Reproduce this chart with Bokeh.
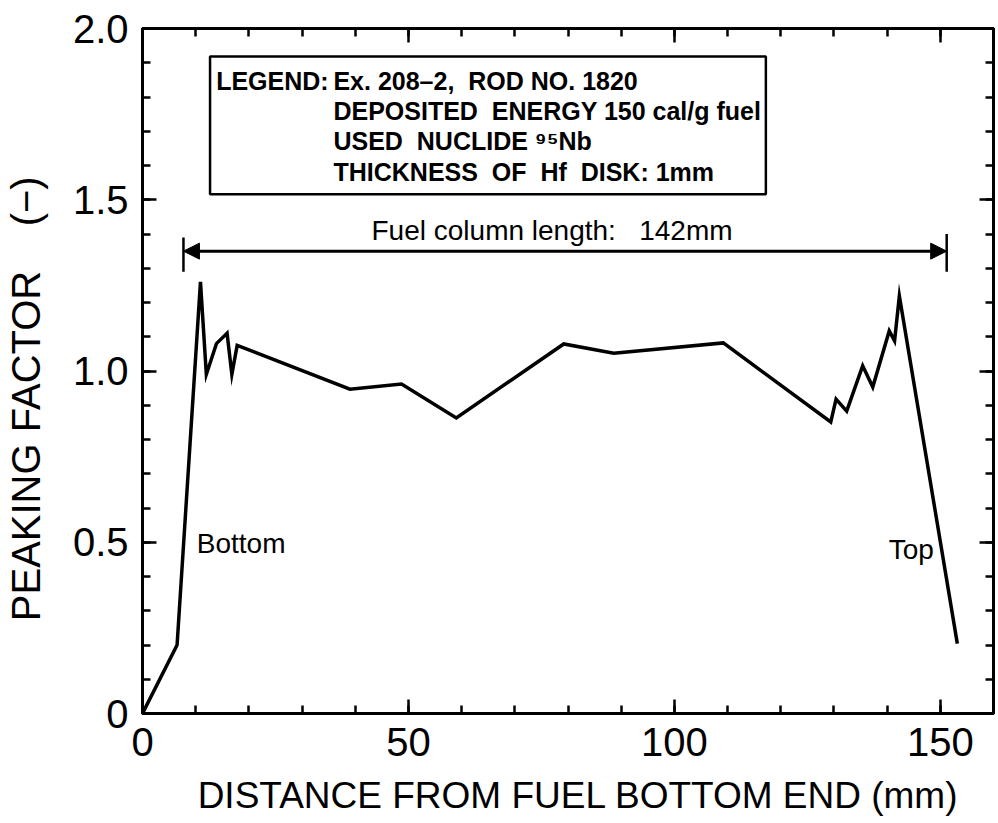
from bokeh.plotting import figure
from bokeh.models import (Range1d, LinearAxis, SingleIntervalTicker, Label,
                          BoxAnnotation, Arrow, NormalHead)
from bokeh.embed import file_html
from bokeh.resources import INLINE

# ---- data ----
distance_mm = [0, 6.5, 10.9, 12.0, 13.9, 15.9, 16.8, 17.8, 39.0, 48.7, 59.0,
               79.2, 88.6, 109.2, 129.4, 130.4, 132.4, 135.4, 137.3, 140.4,
               141.4, 142.3, 153.2]
peaking_factor = [0, 0.20, 1.26, 0.99, 1.08, 1.11, 0.99, 1.075, 0.947, 0.962,
                  0.863, 1.079, 1.052, 1.082, 0.851, 0.918, 0.883, 1.015,
                  0.953, 1.117, 1.088, 1.219, 0.204]

fuel_column_start = 7.7
fuel_column_end = 151.2
fuel_arrow_level = 1.35
fuel_bar_bottom = [1.29, 1.29]
fuel_bar_top = [1.39, 1.40]

y_tick_labels = {0: "0", 0.5: "0.5", 1: "1.0", 1.5: "1.5", 2: "2.0"}
x_tick_labels = {0: "0", 50: "50", 100: "100", 150: "150"}

NB = "\u00a0"
legend_head = "LEGEND:"
legend_lines = ["Ex. 208\u20132," + NB + " ROD NO. 1820",
                "DEPOSITED" + NB + " ENERGY 150 cal/g fuel",
                "USED" + NB + " NUCLIDE \u2079\u2075Nb",
                "THICKNESS" + NB + " OF" + NB + " Hf" + NB + " DISK: 1mm"]
legend_y = [1.848, 1.760, 1.672, 1.582]

x_title = NB * 2 + "DISTANCE FROM FUEL BOTTOM END (mm)"
y_title = "PEAKING FACTOR" + NB * 4 + "(\u2212)" + NB * 5
fuel_text = "Fuel column length:" + NB + NB + " 142mm"

REG = "'Liberation Sans', Arial, sans-serif"

p = figure(frame_width=851, frame_height=685, output_backend="svg",
           toolbar_location=None, x_range=Range1d(0, 160), y_range=Range1d(0, 2),
           min_border_left=134, min_border_right=5, min_border_top=28,
           min_border_bottom=102, background_fill_color="white",
           border_fill_color="white")
p.grid.visible = False
p.outline_line_color = "black"
p.outline_line_width = 3


def style_axis(ax, show_labels):
    ax.axis_line_width = 3
    ax.axis_line_color = "black"
    ax.major_tick_in = 14
    ax.major_tick_out = 0
    ax.minor_tick_in = 8
    ax.minor_tick_out = 0
    ax.major_tick_line_width = 2.5
    ax.minor_tick_line_width = 2.5
    if show_labels:
        ax.major_label_text_font = REG
        ax.major_label_text_font_size = "40px"
        ax.major_label_text_color = "black"
        ax.axis_label_text_font = REG
        ax.axis_label_text_font_style = "normal"
        ax.axis_label_text_color = "black"
    else:
        ax.major_label_text_font_size = "1px"
        ax.major_label_text_color = None
        ax.major_label_standoff = 0


p.xaxis.ticker = SingleIntervalTicker(interval=50, num_minor_ticks=5)
p.yaxis.ticker = SingleIntervalTicker(interval=0.5, num_minor_ticks=5)
p.xaxis.major_label_overrides = x_tick_labels
p.yaxis.major_label_overrides = y_tick_labels
style_axis(p.xaxis[0], True)
style_axis(p.yaxis[0], True)
p.xaxis.axis_label = x_title
p.yaxis.axis_label = y_title
p.xaxis.axis_label_text_font_size = "37px"
p.yaxis.axis_label_text_font_size = "40px"
p.xaxis.major_label_standoff = 14
p.xaxis.axis_label_standoff = 16
p.yaxis.major_label_standoff = 14
p.yaxis.axis_label_standoff = 22

top_ax = LinearAxis(ticker=SingleIntervalTicker(interval=50, num_minor_ticks=5))
right_ax = LinearAxis(ticker=SingleIntervalTicker(interval=0.5, num_minor_ticks=5))
style_axis(top_ax, False)
style_axis(right_ax, False)
p.add_layout(top_ax, "above")
p.add_layout(right_ax, "right")

# data line
p.line(distance_mm, peaking_factor, line_color="black", line_width=3.5,
       line_join="miter")

# fuel column length arrow
p.segment(x0=[fuel_column_start, fuel_column_end], y0=fuel_bar_bottom,
          x1=[fuel_column_start, fuel_column_end], y1=fuel_bar_top,
          line_color="black", line_width=2.5)
p.add_layout(Arrow(x_start=fuel_column_start, y_start=fuel_arrow_level,
                   x_end=fuel_column_end, y_end=fuel_arrow_level,
                   start=NormalHead(size=16, fill_color="black", line_color="black"),
                   end=NormalHead(size=16, fill_color="black", line_color="black"),
                   line_color="black", line_width=3))
p.add_layout(Label(x=77.0, y=1.41, text=fuel_text,
                   text_font=REG, text_font_size="28px", text_align="center",
                   text_baseline="middle", text_color="black"))

# legend box
p.add_layout(BoxAnnotation(left=12.7, right=117.2, bottom=1.516, top=1.918,
                           fill_alpha=0, line_color="black", line_alpha=1,
                           line_width=2.5))
p.add_layout(Label(x=35.0, y=legend_y[0], text=legend_head, text_font=REG,
                   text_font_size="25px", text_baseline="middle",
                   text_align="right", text_font_style="bold",
                   text_color="black"))
for txt, yy in zip(legend_lines, legend_y):
    p.add_layout(Label(x=35.9, y=yy, text=txt, text_font=REG,
                       text_font_size="25px", text_baseline="middle",
                       text_font_style="bold", text_color="black"))

p.add_layout(Label(x=10.2, y=0.495, text="Bottom", text_font=REG,
                   text_font_size="28px", text_baseline="middle", text_color="black"))
p.add_layout(Label(x=140.3, y=0.48, text="Top", text_font=REG,
                   text_font_size="28px", text_baseline="middle", text_color="black"))

open("out.html", "w").write(file_html(p, INLINE))
